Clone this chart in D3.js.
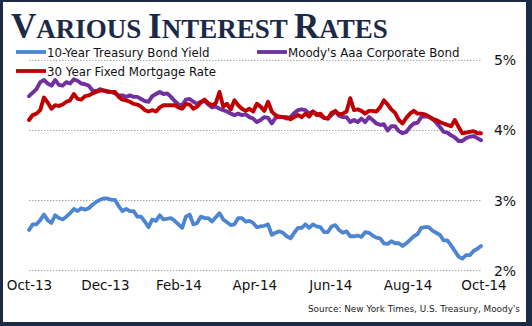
<!DOCTYPE html>
<html>
<head>
<meta charset="utf-8">
<script src="https://cdn.jsdelivr.net/npm/d3@7"></script>
<style>
  html, body { margin: 0; padding: 0; background: #fff; }
  svg { display: block; }
</style>
</head>
<body>
<script>
// ---- data, one point every 3 days from 31 Oct 2013 ----
const startDay = "2013-10-31";
const stepDays = 3;

const treasury = [
  2.58, 2.66, 2.66, 2.72, 2.80, 2.72, 2.68, 2.79, 2.75, 2.73,
  2.77, 2.82, 2.88, 2.85, 2.89, 2.87, 2.89, 2.94, 2.98, 3.01,
  3.03, 3.03, 3.01, 3.01, 2.92, 2.85, 2.88, 2.85, 2.85, 2.77,
  2.77, 2.70, 2.62, 2.73, 2.71, 2.79, 2.73, 2.74, 2.75, 2.71,
  2.66,
  2.61, 2.77, 2.80, 2.66, 2.68, 2.77, 2.75, 2.75, 2.70, 2.76,
  2.82, 2.73, 2.69, 2.65, 2.66, 2.75, 2.75, 2.70, 2.71, 2.68,
  2.62, 2.63, 2.64, 2.66, 2.51, 2.54, 2.56, 2.54, 2.49, 2.46,
  2.54, 2.61, 2.61, 2.66, 2.61, 2.66, 2.63, 2.62, 2.55, 2.55,
  2.63, 2.65, 2.58, 2.54, 2.56, 2.49, 2.49, 2.50, 2.48, 2.55,
  2.54, 2.50, 2.47, 2.46, 2.39, 2.38, 2.42, 2.39, 2.39, 2.35,
  2.39, 2.44, 2.49, 2.52, 2.61, 2.62, 2.62, 2.57, 2.54, 2.51,
  2.43, 2.43, 2.36, 2.28, 2.20, 2.17, 2.22, 2.22, 2.28, 2.31,
  2.35
];

const moodys = [
  4.49, 4.54, 4.59, 4.69, 4.72, 4.67, 4.64, 4.72, 4.65, 4.64,
  4.69, 4.67, 4.73, 4.71, 4.67, 4.66, 4.64, 4.57, 4.56, 4.59,
  4.57, 4.55, 4.55, 4.53, 4.50, 4.50, 4.48, 4.50, 4.48, 4.48,
  4.45, 4.42, 4.41, 4.49, 4.52, 4.55, 4.52, 4.53, 4.48, 4.42,
  4.37,
  4.36, 4.44, 4.45, 4.41, 4.38, 4.41, 4.42, 4.37, 4.33, 4.34,
  4.31, 4.29, 4.27, 4.24, 4.22, 4.24, 4.22, 4.23, 4.19, 4.17,
  4.12, 4.15, 4.19, 4.18, 4.10, 4.18, 4.20, 4.19, 4.17, 4.19,
  4.25, 4.29, 4.30, 4.29, 4.24, 4.27, 4.24, 4.21, 4.18, 4.17,
  4.22, 4.27, 4.21, 4.19, 4.19, 4.12, 4.15, 4.12, 4.17, 4.12,
  4.19, 4.15, 4.10, 4.08, 4.09, 4.00, 4.06, 4.06, 3.99, 3.96,
  3.98, 4.05, 4.10, 4.11, 4.19, 4.20, 4.20, 4.17, 4.11, 4.05,
  3.98, 3.97, 3.93, 3.90, 3.85, 3.85, 3.89, 3.91, 3.92, 3.89,
  3.86
];

const mortgage = [
  4.15, 4.22, 4.24, 4.29, 4.47, 4.40, 4.31, 4.36, 4.35, 4.37,
  4.41, 4.43, 4.52, 4.45, 4.44, 4.49, 4.50, 4.53, 4.55, 4.57,
  4.57, 4.56, 4.55, 4.55, 4.48, 4.44, 4.43, 4.41, 4.38, 4.37,
  4.34, 4.29, 4.27, 4.29, 4.27, 4.33, 4.36, 4.36, 4.36, 4.36,
  4.33,
  4.31, 4.38, 4.37, 4.31, 4.34, 4.40, 4.44, 4.39, 4.36, 4.39,
  4.55, 4.34, 4.38, 4.30, 4.43, 4.36, 4.31, 4.28, 4.31, 4.27,
  4.38, 4.34, 4.28, 4.41, 4.27, 4.22, 4.19, 4.19, 4.19, 4.16,
  4.19, 4.22, 4.19, 4.24, 4.20, 4.27, 4.22, 4.24, 4.18, 4.17,
  4.25, 4.28, 4.23, 4.24, 4.27, 4.46, 4.29, 4.30, 4.28, 4.24,
  4.28, 4.28, 4.27, 4.33, 4.43, 4.37, 4.30, 4.25, 4.15, 4.10,
  4.18, 4.24, 4.28, 4.24, 4.24, 4.23, 4.20, 4.16, 4.15, 4.12,
  4.10, 4.08, 4.06, 4.15, 4.05, 3.96, 3.97, 3.98, 3.99, 3.96,
  3.96
];

const seriesNames = ["10-Year Treasury Bond Yield", "Moody's Aaa Corporate Bond", "30 Year Fixed Mortgage Rate"];
const tickDates = ["2013-10-31", "2013-12-31", "2014-02-28", "2014-04-30", "2014-06-30", "2014-08-31", "2014-10-31"];
const tickLabels = ["Oct-13", "Dec-13", "Feb-14", "Apr-14", "Jun-14", "Aug-14", "Oct-14"];
const yTicks = [2, 3, 4, 5];
const titleParts = [["V", 1], ["ARIOUS ", 0], ["I", 1], ["NTEREST ", 0], ["R", 1], ["ATES", 0]];
const sourceText = "Source:  New York Times, U.S. Treasury, Moody's";

// ---- layout ----
const W = 532, H = 326;
const colors = { treasury: "#4d85d1", moodys: "#7030a0", mortgage: "#c00000", navy: "#1c2a47" };
const parse = d3.timeParse("%Y-%m-%d");
const start = parse(startDay);
const dates = treasury.map((_, i) => d3.timeDay.offset(start, i * stepDays));

const svg = d3.select("body").append("svg").attr("width", W).attr("height", H);

// frame
svg.append("rect").attr("width", W).attr("height", H).attr("fill", colors.navy);
svg.append("rect").attr("x", 3).attr("y", 2).attr("width", W - 9).attr("height", H - 6).attr("fill", "#fff");

const x = d3.scaleTime().domain([dates[0], dates[dates.length - 1]]).range([29, 481]);
const y = d3.scaleLinear().domain([2, 5]).range([270.6, 60.4]);

// gridlines
svg.append("g").selectAll("line").data(yTicks).join("line")
  .attr("x1", 29).attr("x2", 481)
  .attr("y1", d => y(d)).attr("y2", d => y(d))
  .attr("stroke", "#a6a6a6").attr("stroke-width", 1).attr("stroke-dasharray", "1.5,1.5");

// y axis labels
const yAxis = svg.append("g").attr("transform", "translate(481,0)")
  .call(d3.axisRight(y).tickValues(yTicks).tickFormat(d => d + "%").tickSize(0));
yAxis.select(".domain").remove();
yAxis.selectAll("text").attr("x", 24).attr("text-anchor", "middle")
  .style("font-family", "DejaVu Sans, sans-serif").style("font-size", "14px").attr("fill", "#111");

// x axis labels
const xAxis = svg.append("g").attr("transform", "translate(0,277)")
  .call(d3.axisBottom(x).tickValues(tickDates.map(parse)).tickFormat((d, i) => tickLabels[i]).tickSize(0));
xAxis.select(".domain").remove();
xAxis.selectAll("text").attr("dy", "0.75em")
  .style("font-family", "DejaVu Sans, sans-serif").style("font-size", "13.5px").attr("fill", "#111");

// lines
const line = d3.line().x((d, i) => x(dates[i])).y(d => y(d));
const drawLine = (vals, color, w) => svg.append("path").datum(vals)
  .attr("d", line).attr("fill", "none").attr("stroke", color)
  .attr("stroke-width", w).attr("stroke-linejoin", "round").attr("stroke-linecap", "round");
drawLine(treasury, colors.treasury, 3.8);
drawLine(moodys, colors.moodys, 3.9);
drawLine(mortgage, colors.mortgage, 3.9);

// title
const title = svg.append("text").attr("x", 11).attr("y", 38)
  .attr("fill", colors.navy).style("font-family", "Liberation Serif, serif").style("font-weight", "bold");
title.selectAll("tspan").data(titleParts).join("tspan")
  .text(d => d[0]).style("font-size", d => d[1] ? "35px" : "27px");

// legend
const legend = [
  { name: seriesNames[0], color: colors.treasury, lx: 16, ly: 52 },
  { name: seriesNames[1], color: colors.moodys, lx: 257, ly: 52 },
  { name: seriesNames[2], color: colors.mortgage, lx: 16, ly: 71 }
];
const lg = svg.append("g").selectAll("g").data(legend).join("g")
  .attr("transform", d => `translate(${d.lx},${d.ly})`);
lg.append("line").attr("x1", 0).attr("x2", 30).attr("stroke", d => d.color).attr("stroke-width", 3.8);
lg.append("text").attr("x", 31).attr("y", 4.5).text(d => d.name)
  .style("font-family", "DejaVu Sans, sans-serif").style("font-size", "11.8px").attr("fill", "#111");

// source
svg.append("text").attr("x", 520).attr("y", 312).attr("text-anchor", "end").text(sourceText)
  .style("font-family", "DejaVu Sans, sans-serif").style("font-size", "8.9px").attr("fill", "#222");
</script>
</body>
</html>
